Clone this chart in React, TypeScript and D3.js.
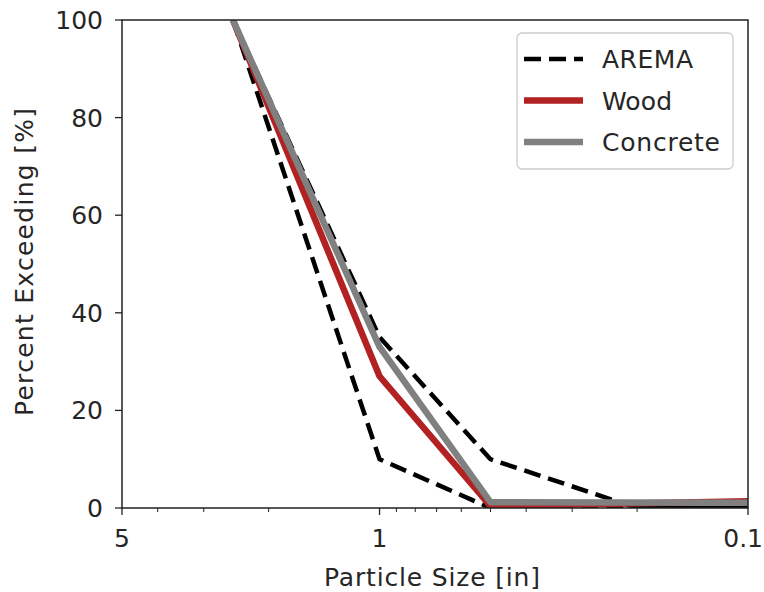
import React from "react";
import * as d3 from "d3";

const aremaUpperSize = [2.5, 1, 0.5, 0.2, 0.1];
const aremaUpperPct = [100, 35, 10, 0, 0];
const aremaLowerSize = [2.5, 1, 0.5, 0.1];
const aremaLowerPct = [100, 10, 0, 0];
const woodSize = [2.5, 1, 0.5, 0.1];
const woodPct = [100, 27, 0.4, 1.4];
const concreteSize = [2.5, 1, 0.5, 0.1];
const concretePct = [100, 33, 1.2, 1.1];
const xMajorTicks = [5, 1, 0.1];
const xTickLabels = ["5", "1", "0.1"];
const xMinorTicks = [4, 3, 2, 0.9, 0.8, 0.7, 0.6, 0.5, 0.4, 0.3, 0.2];
const yTicks = [0, 20, 40, 60, 80, 100];
const legendLabels = ["AREMA", "Wood", "Concrete"];
const legendTextLengths = [91, 70, 118];

const W = 764, H = 592;
const L = 122, R = 748, T = 20, B = 508;
const FONT = "DejaVu Sans";
const FS = 25;
const TXT = "#262626";

export default function App() {
  const x = d3.scaleLog().domain([5, 0.1]).range([L, R]);
  const y = d3.scaleLinear().domain([0, 100]).range([B, T]);
  const line = d3.line<[number, number]>().x(d => x(d[0])).y(d => y(d[1]));
  const zip = (a: number[], b: number[]) => a.map((v, i) => [v, b[i]] as [number, number]);

  const dash = "17,8";
  const series = [
    { d: zip(aremaUpperSize, aremaUpperPct), stroke: "#000", w: 4.5, dash },
    { d: zip(aremaLowerSize, aremaLowerPct), stroke: "#000", w: 4.5, dash },
    { d: zip(woodSize, woodPct), stroke: "#b22222", w: 6.5, dash: undefined },
    { d: zip(concreteSize, concretePct), stroke: "#808080", w: 6.5, dash: undefined },
  ];
  const legendStyles = [
    { stroke: "#000", w: 4.5, dash },
    { stroke: "#b22222", w: 6.5, dash: undefined },
    { stroke: "#808080", w: 6.5, dash: undefined },
  ];

  return (
    <svg width={W} height={H} style={{ position: "absolute", left: 0, top: 0, background: "#fff" }} fontFamily={FONT}>
      <defs>
        <clipPath id="plotclip"><rect x={L} y={T} width={R - L} height={B - T} /></clipPath>
      </defs>
      <g clipPath="url(#plotclip)">
        {series.map((s, i) => (
          <path key={i} d={line(s.d) || ""} fill="none" stroke={s.stroke} strokeWidth={s.w}
            strokeDasharray={s.dash} strokeLinejoin="round" />
        ))}
      </g>
      <rect x={L} y={T} width={R - L} height={B - T} fill="none" stroke="#222" strokeWidth={1.5} />
      {yTicks.map(t => (
        <g key={t}>
          <line x1={L - 7} x2={L} y1={y(t)} y2={y(t)} stroke="#222" strokeWidth={1.3} />
          <text x={L - 19} y={y(t)} dy="0.36em" textAnchor="end" fontSize={FS} fill={TXT}>{t}</text>
        </g>
      ))}
      {xMajorTicks.map((t, i) => (
        <g key={t}>
          <line x1={x(t)} x2={x(t)} y1={B} y2={B + 7} stroke="#222" strokeWidth={1.3} />
          <text x={i === xMajorTicks.length - 1 ? W - 1 : x(t)} y={547}
            textAnchor={i === xMajorTicks.length - 1 ? "end" : "middle"} fontSize={FS} fill={TXT}>{xTickLabels[i]}</text>
        </g>
      ))}
      {xMinorTicks.map(t => (
        <line key={t} x1={x(t)} x2={x(t)} y1={B} y2={B + 4} stroke="#222" strokeWidth={1} />
      ))}
      <text x={432} y={586} textAnchor="middle" fontSize={FS} fill={TXT}
        textLength={216} lengthAdjust="spacing">Particle Size [in]</text>
      <text transform={`translate(33,262) rotate(-90)`} textAnchor="middle" fontSize={FS} fill={TXT}
        textLength={308} lengthAdjust="spacing">Percent Exceeding [%]</text>
      <g>
        <rect x={517} y={33} width={216} height={136} rx={5} fill="#fff" fillOpacity={0.8} stroke="#ccc" strokeWidth={1.3} />
        {legendLabels.map((lab, i) => {
          const ly = 59 + i * 41.5;
          const st = legendStyles[i];
          return (
            <g key={lab}>
              <line x1={524} x2={583} y1={ly} y2={ly} stroke={st.stroke} strokeWidth={st.w} strokeDasharray={st.dash} />
              <text x={602} y={ly} dy="0.36em" fontSize={FS} fill={TXT}
                textLength={legendTextLengths[i]} lengthAdjust="spacing">{lab}</text>
            </g>
          );
        })}
      </g>
    </svg>
  );
}
